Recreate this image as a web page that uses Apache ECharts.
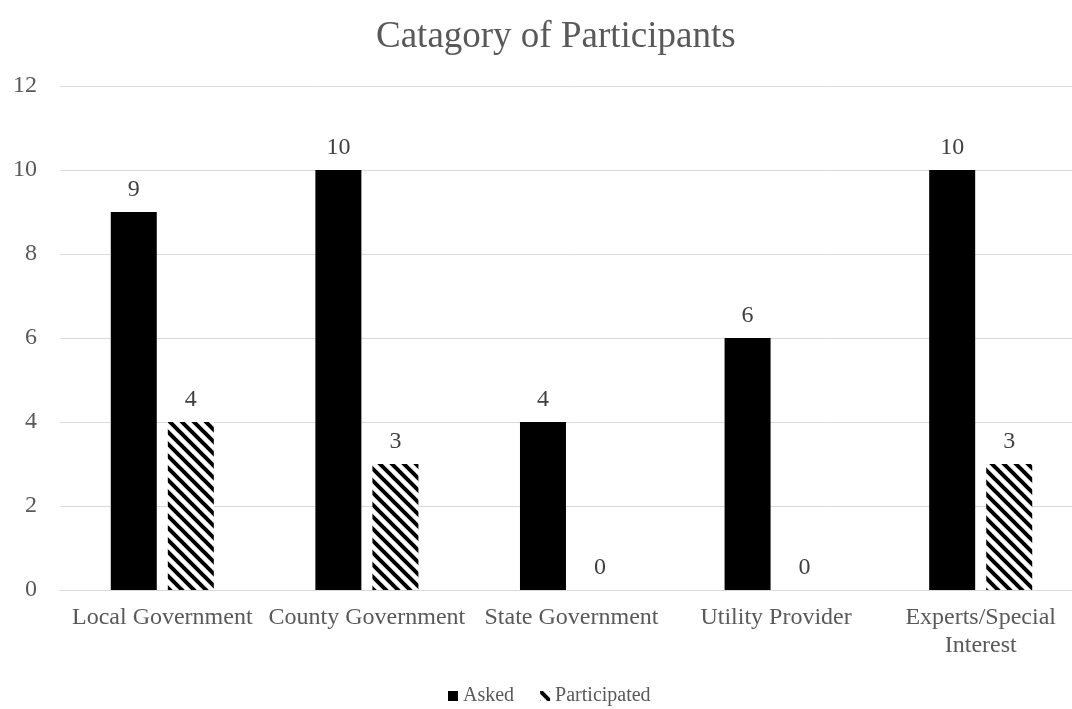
<!DOCTYPE html>
<html>
<head>
<meta charset="utf-8">
<script src="https://cdn.jsdelivr.net/npm/echarts@6/dist/echarts.min.js"></script>
<style>
  html, body { margin: 0; padding: 0; background: #fff; overflow: hidden; }
  /* the original picture is cropped on the right, so the chart runs a little past the window */
  #main { width: 1083px; height: 709px; }
</style>
</head>
<body>
<div id="main"></div>
<script>
var categories = ['Local Government', 'County Government', 'State Government', 'Utility Provider', 'Experts/Special\nInterest'];
var asked = [9, 10, 4, 6, 10];
var participated = [4, 3, 0, 0, 3];

// diagonal hatch for the "Participated" bars
function makeHatch() {
    var c = document.createElement('canvas');
    var s = 12;
    c.width = s; c.height = s;
    var ctx = c.getContext('2d');
    ctx.fillStyle = '#fff';
    ctx.fillRect(0, 0, s, s);
    ctx.strokeStyle = '#000';
    ctx.lineWidth = 4;
    ctx.beginPath();
    ctx.moveTo(-s, 0); ctx.lineTo(s * 2, s * 3);
    ctx.moveTo(-s, -s); ctx.lineTo(s * 2, s * 2);
    ctx.moveTo(-s, s); ctx.lineTo(s, s * 3);
    ctx.moveTo(0, -s); ctx.lineTo(s * 2, s);
    ctx.stroke();
    return c;
}
var hatch = { image: makeHatch(), repeat: 'repeat' };

var myChart = echarts.init(document.getElementById('main'));
var font = 'Liberation Serif';

var option = {
    animation: false,
    title: {
        text: 'Catagory of Participants',
        left: 371,
        top: 14,
        textStyle: { fontFamily: font, fontSize: 37, fontWeight: 'normal', color: '#595959' }
    },
    legend: {
        top: 681,
        left: 443,
        icon: 'rect',
        itemWidth: 10,
        itemHeight: 10,
        itemGap: 26,
        textStyle: { fontFamily: font, fontSize: 20, color: '#595959' },
        data: ['Asked', 'Participated']
    },
    grid: { left: 60, right: 0, top: 86, bottom: 119 },
    xAxis: {
        type: 'category',
        data: categories,
        axisTick: { show: false },
        axisLine: { lineStyle: { color: '#d9d9d9' } },
        axisLabel: { fontFamily: font, fontSize: 24, color: '#595959', margin: 14, lineHeight: 28, interval: 0 }
    },
    yAxis: {
        type: 'value',
        min: 0, max: 12, interval: 2,
        axisLabel: { fontFamily: font, fontSize: 24, color: '#595959', margin: 23 },
        splitLine: { lineStyle: { color: '#d9d9d9', width: 1 } }
    },
    series: [
        {
            name: 'Asked',
            type: 'bar',
            data: asked,
            barWidth: 46,
            barGap: '24%',
            itemStyle: { color: '#000' },
            label: { show: true, position: 'top', distance: 10, fontFamily: font, fontSize: 24, color: '#404040' }
        },
        {
            name: 'Participated',
            type: 'bar',
            data: participated,
            barWidth: 46,
            itemStyle: { color: hatch },
            label: { show: true, position: 'top', distance: 10, fontFamily: font, fontSize: 24, color: '#404040' }
        }
    ]
};

myChart.setOption(option);
</script>
</body>
</html>
